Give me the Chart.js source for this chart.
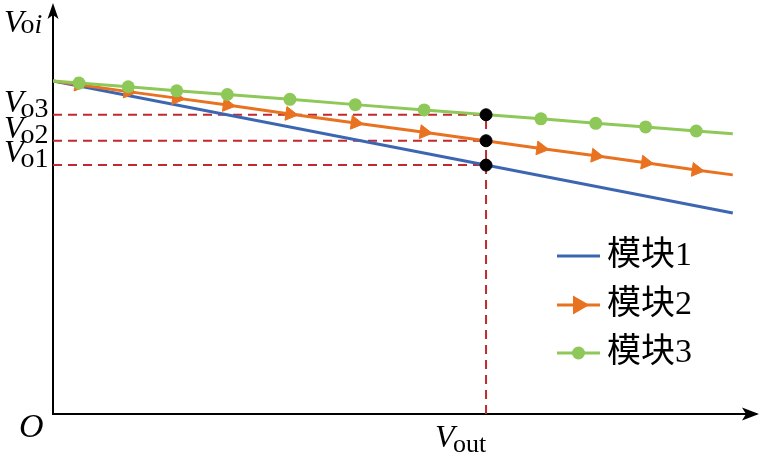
<!DOCTYPE html>
<html>
<head>
<meta charset="utf-8">
<script src="https://cdn.jsdelivr.net/npm/chart.js@4.4.0/dist/chart.umd.min.js"></script>
<style>
    html, body { margin: 0; padding: 0; background: #fff; }
</style>
</head>
<body>
<canvas id="chart" width="763" height="461"></canvas>
<script>
// series data (arbitrary units)
const seriesNames = ['模块1', '模块2', '模块3'];
const blueX = [0, 9.67];
const blueY = [8.20, 4.95];
const markerX = [0, 0.37, 1.07, 1.76, 2.48, 3.37, 4.30, 5.28, 6.94, 7.72, 8.43, 9.15, 9.67];
const orangeY = [8.20, 8.11, 7.94, 7.78, 7.61, 7.39, 7.17, 6.94, 6.54, 6.36, 6.19, 6.01, 5.89];
const greenY = [8.20, 8.15, 8.06, 7.96, 7.87, 7.75, 7.62, 7.49, 7.27, 7.16, 7.07, 6.97, 6.90];

// operating point
const voutX = 6.16;
const voSubs = ['1', '2', '3'];
const voY = [6.13, 6.73, 7.37];

const colors = ['#3d66b2', '#e8721f', '#8dc858'];
const dashRed = '#c02a2e';
const serif = '"Liberation Serif", "Times New Roman", serif';
const legendFont = '34px "Liberation Serif", "Noto Sans CJK SC", serif';

const toPoints = (xs, ys) => xs.map((x, i) => ({ x: x, y: ys[i] }));
const innerOnly = (r) => (ctx) => {
    const n = ctx.dataset.data.length;
    return (ctx.dataIndex === 0 || ctx.dataIndex === n - 1) ? 0 : r;
};

const datasets = [];

// dashed guide lines
voY.forEach(v => {
    datasets.push({
        data: [{ x: 0, y: v }, { x: voutX, y: v }],
        borderColor: dashRed, borderWidth: 2, borderDash: [9, 6],
        pointRadius: 0, showLine: true, order: 10
    });
});
datasets.push({
    data: [{ x: voutX, y: 0 }, { x: voutX, y: Math.max(...voY) }],
    borderColor: dashRed, borderWidth: 2, borderDash: [9, 6],
    pointRadius: 0, showLine: true, order: 10
});

datasets.push({
    label: seriesNames[0],
    data: toPoints(blueX, blueY),
    borderColor: colors[0], borderWidth: 3, pointRadius: 0,
    showLine: true, order: 3
});
datasets.push({
    label: seriesNames[1],
    data: toPoints(markerX, orangeY),
    borderColor: colors[1], backgroundColor: colors[1], borderWidth: 3,
    pointStyle: 'triangle', pointRotation: 98, pointRadius: innerOnly(8),
    pointBorderWidth: 1, showLine: true, order: 2
});
datasets.push({
    label: seriesNames[2],
    data: toPoints(markerX, greenY),
    borderColor: colors[2], backgroundColor: colors[2], borderWidth: 3,
    pointStyle: 'circle', pointRadius: innerOnly(6.5),
    pointBorderWidth: 0, showLine: true, order: 1
});

// black dots at Vout
datasets.push({
    data: voY.map(v => ({ x: voutX, y: v })),
    backgroundColor: '#000', borderColor: '#000',
    pointRadius: 6, showLine: false, order: 0
});

const decorations = {
    id: 'decorations',
    afterDraw(chart) {
        const ctx = chart.ctx;
        const a = chart.chartArea;
        const xs = chart.scales.x, ys = chart.scales.y;
        ctx.save();

        // axis arrow heads
        ctx.fillStyle = '#000';
        ctx.beginPath();
        ctx.moveTo(a.right + 3, a.bottom);
        ctx.lineTo(a.right - 14, a.bottom - 6.5);
        ctx.lineTo(a.right - 10, a.bottom);
        ctx.lineTo(a.right - 14, a.bottom + 6.5);
        ctx.closePath();
        ctx.fill();
        ctx.beginPath();
        ctx.moveTo(a.left, a.top - 5);
        ctx.lineTo(a.left - 5.5, a.top + 11);
        ctx.lineTo(a.left, a.top + 7);
        ctx.lineTo(a.left + 5.5, a.top + 11);
        ctx.closePath();
        ctx.fill();

        // axis texts
        ctx.fillStyle = '#000';
        ctx.textBaseline = 'alphabetic';
        ctx.textAlign = 'left';
        const sub = (main, subTxt, x, y, dy, subItalic) => {
            ctx.font = 'italic 32px ' + serif;
            ctx.fillText(main, x, y);
            const w = ctx.measureText(main).width;
            ctx.font = '28px ' + serif;
            ctx.fillText(subTxt[0], x + w - 3, y + dy);
            if (subTxt.length > 1) {
                const w2 = ctx.measureText(subTxt[0]).width;
                ctx.font = (subItalic ? 'italic ' : '') + '28px ' + serif;
                ctx.fillText(subTxt.slice(1), x + w - 3 + w2, y + dy);
            }
        };
        sub('V', 'oi', 4, 32, 1, true);
        voY.forEach((v, i) => {
            const py = ys.getPixelForValue(v);
            sub('V', 'o' + voSubs[i], 4, py - 3, 5, false);
        });
        const vx = xs.getPixelForValue(voutX);
        ctx.font = 'italic 32px ' + serif;
        ctx.fillText('V', vx - 51, a.bottom + 33);
        ctx.font = '26px ' + serif;
        ctx.fillText('out', vx - 33, a.bottom + 38);
        ctx.font = 'italic 34px ' + serif;
        ctx.fillText('O', 19, a.bottom + 23);

        // legend
        const rows = [256, 305, 353];
        const lx0 = 557, lx1 = 600, tx = 607;
        const styles = [null, { pointStyle: 'triangle', rotation: 90, radius: 8, borderWidth: 1 },
                        { pointStyle: 'circle', radius: 6.5, borderWidth: 0 }];
        seriesNames.forEach((name, i) => {
            const y = rows[i];
            ctx.strokeStyle = colors[i];
            ctx.lineWidth = 3;
            ctx.beginPath();
            ctx.moveTo(lx0, y);
            ctx.lineTo(lx1, y);
            ctx.stroke();
            if (styles[i]) {
                ctx.fillStyle = colors[i];
                Chart.helpers.drawPoint(ctx, styles[i], (lx0 + lx1) / 2, y);
            }
            ctx.fillStyle = '#000';
            ctx.font = legendFont;
            ctx.textBaseline = 'middle';
            ctx.fillText(name, tx, y);
        });
        ctx.restore();
    }
};

new Chart(document.getElementById('chart').getContext('2d'), {
    type: 'scatter',
    data: { datasets: datasets },
    options: {
        responsive: false,
        animation: false,
        layout: { padding: { left: 45, right: 5, top: 8, bottom: 39 } },
        plugins: { legend: { display: false }, tooltip: { enabled: false } },
        scales: {
            x: {
                type: 'linear', min: 0, max: 10,
                ticks: { display: false },
                grid: { display: false },
                border: { color: '#000', width: 2 }
            },
            y: {
                type: 'linear', min: 0, max: 10,
                ticks: { display: false },
                grid: { display: false },
                border: { color: '#000', width: 2 }
            }
        }
    },
    plugins: [decorations]
});
</script>
</body>
</html>
